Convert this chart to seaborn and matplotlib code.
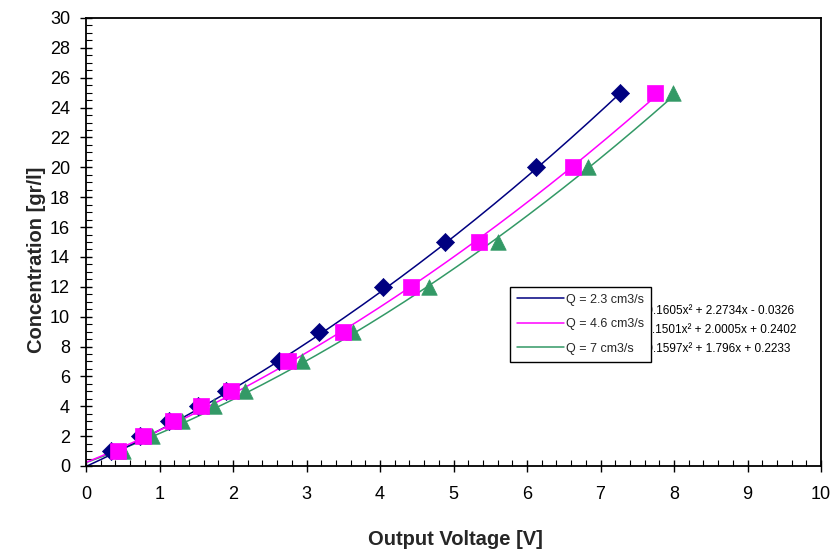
import numpy as np
import pandas as pd
import matplotlib
matplotlib.use("Agg")
import matplotlib.pyplot as plt
from matplotlib.lines import Line2D
from matplotlib.ticker import MultipleLocator
import seaborn as sns

# Calibration data: concentration vs. sensor output voltage for three flow rates
concentration = [1, 2, 3, 4, 5, 7, 9, 12, 15, 20, 25]
volt_q23 = [0.34, 0.74, 1.13, 1.52, 1.90, 2.63, 3.17, 4.04, 4.88, 6.12, 7.27]
volt_q46 = [0.44, 0.77, 1.19, 1.57, 1.97, 2.75, 3.49, 4.42, 5.35, 6.63, 7.74]
volt_q7 = [0.50, 0.90, 1.31, 1.74, 2.16, 2.94, 3.63, 4.67, 5.60, 6.83, 7.98]

series_labels = ["Q = 2.3 cm3/s", "Q = 4.6 cm3/s", "Q = 7 cm3/s"]
# Quadratic trendline coefficients (a, b, c) for y = a x^2 + b x + c
fit_q23 = [0.1605, 2.2734, -0.0326]
fit_q46 = [0.1501, 2.0005, 0.2402]
fit_q7 = [0.1597, 1.796, 0.2233]

sns.set_theme(style="ticks")
plt.rcParams["font.family"] = ["Liberation Sans", "DejaVu Sans"]

fig = plt.figure(figsize=(8.38, 5.56), dpi=100)
ax = fig.add_axes([86 / 838, 1 - 466 / 556, (821 - 86) / 838, (466 - 18) / 556])

colors = ["#000080", "#FF00FF", "#339966"]
markers = ["D", "s", "^"]
sizes = [85, 125, 125]
volts = [volt_q23, volt_q46, volt_q7]
fits = [fit_q23, fit_q46, fit_q7]


def fmt_eq(a, b, c):
    sign = "-" if c < 0 else "+"
    return f"y = {a:g}x\u00b2 + {b:g}x {sign} {abs(c):g}"


# Trendlines from the stated equations, over 0 .. last voltage
for i in [2, 0, 1]:
    a, b, c = fits[i]
    xs = np.linspace(0, max(volts[i]), 200)
    df_fit = pd.DataFrame({"v": xs, "c": a * xs ** 2 + b * xs + c})
    sns.lineplot(data=df_fit, x="v", y="c", color=colors[i], lw=1.1, ax=ax,
                 zorder=2, legend=False)

# Measured points
for i in [2, 0, 1]:
    df_pts = pd.DataFrame({"v": volts[i], "c": concentration})
    sns.scatterplot(data=df_pts, x="v", y="c", marker=markers[i], s=sizes[i],
                    color=colors[i], edgecolor=colors[i], linewidth=0.5,
                    ax=ax, zorder=3, legend=False)

ax.set_xlim(0, 10)
ax.set_ylim(0, 30)
ax.xaxis.set_major_locator(MultipleLocator(1))
ax.xaxis.set_minor_locator(MultipleLocator(0.2))
ax.yaxis.set_major_locator(MultipleLocator(2))
ax.yaxis.set_minor_locator(MultipleLocator(0.5))
ax.tick_params(which="major", direction="inout", length=9, width=1.0,
               color="black", labelsize=13, labelcolor="black")
ax.tick_params(axis="x", which="major", pad=10)
ax.tick_params(axis="y", which="major", pad=7)
ax.tick_params(which="minor", direction="in", length=4, width=0.8, color="black")
for sp in ax.spines.values():
    sp.set_visible(True)
    sp.set_color("black")
    sp.set_linewidth(1.3)

ax.set_xlabel("Output Voltage [V]", fontsize=14.5, fontweight="bold")
ax.set_ylabel("Concentration [gr/l]", fontsize=14.5, fontweight="bold")
ax.xaxis.label.set_va("center")
ax.yaxis.label.set_va("center")
ax.xaxis.set_label_coords(0.502, -0.165)
ax.yaxis.set_label_coords(-0.068, 0.46)

# Trendline equations, partly covered by the legend box
eq_y = [10.42, 9.15, 7.88]
eq_x = [9.635, 9.665, 9.585]
for i in range(3):
    ax.text(eq_x[i], eq_y[i], fmt_eq(*fits[i]), fontsize=8.5, ha="right",
            va="center", color="black", zorder=4)

handles = [Line2D([0], [0], color=colors[i], lw=1.1) for i in range(3)]
leg = ax.legend(handles, series_labels, loc="upper left",
                bbox_to_anchor=(0.577, 0.40), borderaxespad=0, fontsize=9,
                frameon=True, fancybox=False, edgecolor="black",
                handlelength=3.8, handletextpad=0.15, labelspacing=1.0,
                borderpad=0.55)
leg.get_frame().set_linewidth(1.0)
leg.get_frame().set_alpha(1)
leg.set_zorder(5)

fig.savefig("out.png", dpi=100, facecolor="white")
